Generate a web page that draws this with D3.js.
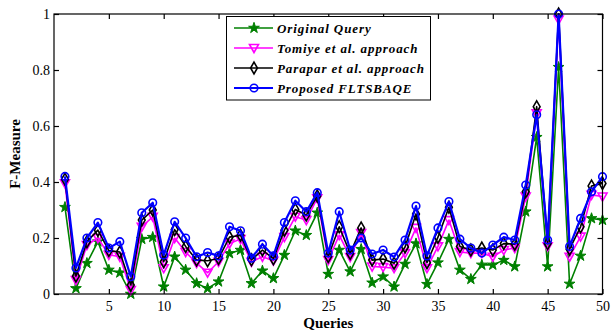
<!DOCTYPE html>
<html><head><meta charset="utf-8">
<script src="https://cdn.jsdelivr.net/npm/d3@7"></script>
<style>body{margin:0;background:#fff}svg{display:block}</style>
</head><body>
<svg id="c" width="614" height="333"></svg>
<script>
const queries = d3.range(1, 51);
const originalQuery = [0.31,0.02,0.11,0.187,0.086,0.076,0.0,0.196,0.203,0.026,0.133,0.086,0.038,0.02,0.044,0.145,0.157,0.038,0.083,0.056,0.139,0.226,0.21,0.29,0.071,0.157,0.08,0.16,0.04,0.062,0.026,0.107,0.18,0.035,0.112,0.196,0.086,0.053,0.104,0.104,0.121,0.098,0.294,0.56,0.098,0.81,0.036,0.136,0.27,0.264];
const tomiye = [0.395,0.05,0.175,0.2,0.14,0.133,0.014,0.24,0.276,0.092,0.2,0.15,0.11,0.076,0.115,0.18,0.196,0.115,0.133,0.119,0.203,0.276,0.264,0.342,0.121,0.21,0.132,0.218,0.098,0.096,0.092,0.146,0.236,0.092,0.17,0.264,0.15,0.146,0.146,0.133,0.157,0.164,0.348,0.645,0.17,0.98,0.133,0.205,0.354,0.348];
const parapar = [0.41,0.064,0.187,0.228,0.155,0.15,0.032,0.264,0.3,0.115,0.23,0.17,0.121,0.119,0.127,0.203,0.21,0.122,0.157,0.126,0.228,0.302,0.282,0.35,0.134,0.24,0.145,0.236,0.121,0.125,0.11,0.168,0.286,0.112,0.203,0.31,0.17,0.157,0.164,0.157,0.18,0.178,0.365,0.669,0.18,1.0,0.16,0.24,0.386,0.395];
const proposed = [0.42,0.093,0.2,0.255,0.164,0.187,0.062,0.29,0.326,0.139,0.258,0.2,0.133,0.148,0.136,0.24,0.226,0.128,0.178,0.136,0.255,0.333,0.294,0.362,0.146,0.294,0.157,0.2,0.143,0.157,0.132,0.193,0.314,0.136,0.236,0.33,0.196,0.164,0.146,0.175,0.203,0.193,0.389,0.64,0.193,1.0,0.17,0.27,0.365,0.419];
const seriesNames = ["Original Query","Tomiye et al. approach","Parapar et al. approach","Proposed FLTSBAQE"];
const xTicks = [5,10,15,20,25,30,35,40,45,50];
const yTicks = [0,0.2,0.4,0.6,0.8,1];

const series = [
  {name: seriesNames[0], values: originalQuery, color: "#008000", sym: d3.symbolStar, fill: true, size: 36, lw: 1.6},
  {name: seriesNames[1], values: tomiye, color: "#ff00ff", sym: "tri", fill: false, size: 0, lw: 1.6},
  {name: seriesNames[2], values: parapar, color: "#000000", sym: d3.symbolDiamond, fill: false, size: 40, lw: 1.6},
  {name: seriesNames[3], values: proposed, color: "#0000ff", sym: d3.symbolCircle, fill: false, size: 45, lw: 2.2}
];

const svg = d3.select("#c");
const L = 54, R = 602.5, T = 14, B = 294;
const x = d3.scaleLinear().domain([0, 50]).range([L, R]);
const y = d3.scaleLinear().domain([0, 1]).range([B, T]);
const font = "Liberation Serif, Times New Roman, serif";

function symPath(s) {
  if (s.sym === "tri") return "M-4.5,-3.5L4.5,-3.5L0,4.5Z";
  return d3.symbol().type(s.sym).size(s.size)();
}

const plot = svg.append("g");
series.forEach(s => {
  const line = d3.line().x((d, i) => x(queries[i])).y(d => y(d));
  plot.append("path").attr("d", line(s.values)).attr("fill", "none")
    .attr("stroke", s.color).attr("stroke-width", s.lw).attr("stroke-linejoin", "round");
  const p = symPath(s);
  plot.selectAll(null).data(s.values).enter().append("path")
    .attr("d", p)
    .attr("transform", (d, i) => `translate(${x(queries[i])},${y(d)})`)
    .attr("fill", s.fill ? s.color : "none")
    .attr("stroke", s.color).attr("stroke-width", s.fill ? 1 : 1.6);
});

// frame
svg.append("rect").attr("x", L).attr("y", T).attr("width", R - L).attr("height", B - T)
  .attr("fill", "none").attr("stroke", "#000").attr("stroke-width", 1.2);

// axes (inward ticks)
const xAxisB = d3.axisBottom(x).tickValues(xTicks).tickSizeInner(-5).tickSizeOuter(0).tickPadding(7);
const gx = svg.append("g").attr("transform", `translate(0,${B})`).call(xAxisB);
const xAxisT = d3.axisTop(x).tickValues(xTicks).tickSizeInner(-5).tickSizeOuter(0).tickFormat("");
const gxt = svg.append("g").attr("transform", `translate(0,${T})`).call(xAxisT);
const yAxisL = d3.axisLeft(y).tickValues(yTicks).tickSizeInner(-5).tickSizeOuter(0).tickPadding(4).tickFormat(d => d === 0 ? "0" : d === 1 ? "1" : d3.format(".1f")(d));
const gy = svg.append("g").attr("transform", `translate(${L},0)`).call(yAxisL);
const yAxisR = d3.axisRight(y).tickValues(yTicks).tickSizeInner(-5).tickSizeOuter(0).tickFormat("");
const gyr = svg.append("g").attr("transform", `translate(${R},0)`).call(yAxisR);
[gx, gxt, gy, gyr].forEach(g => {
  g.attr("font-family", font);
  g.select(".domain").remove();
  g.selectAll("line").attr("stroke", "#000").attr("stroke-width", 1.2);
  g.selectAll("text").attr("font-family", font).attr("font-size", 14).attr("fill", "#000");
});

// axis labels
svg.append("text").attr("x", (L + R) / 2).attr("y", 328).attr("text-anchor", "middle")
  .attr("font-family", font).attr("font-size", 15).attr("font-weight", "bold").text("Queries");
svg.append("text").attr("transform", `translate(20,${(T + B) / 2}) rotate(-90)`).attr("text-anchor", "middle")
  .attr("font-family", font).attr("font-size", 15).attr("font-weight", "bold").text("F-Measure");

// legend
const lg = svg.append("g");
lg.append("rect").attr("x", 226.5).attr("y", 16.5).attr("width", 204).attr("height", 83.5)
  .attr("fill", "#fff").attr("stroke", "#000").attr("stroke-width", 1);
const ly = [28, 48, 68, 88];
series.forEach((s, i) => {
  lg.append("line").attr("x1", 234).attr("x2", 273).attr("y1", ly[i]).attr("y2", ly[i])
    .attr("stroke", s.color).attr("stroke-width", s.lw);
  lg.append("path").attr("d", symPath(s)).attr("transform", `translate(254,${ly[i]})`)
    .attr("fill", s.fill ? s.color : "none").attr("stroke", s.color).attr("stroke-width", s.fill ? 1 : 1.6);
  lg.append("text").attr("x", 277).attr("y", ly[i] + 4.5)
    .attr("font-family", font).attr("font-size", 13).attr("font-style", "italic").attr("font-weight", "bold")
    .attr("letter-spacing", 0.9).attr("fill", "#000").text(s.name);
});
</script>
</body></html>
